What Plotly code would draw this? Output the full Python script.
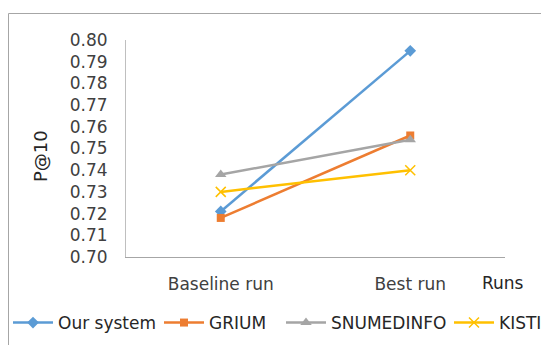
import plotly.graph_objects as go

categories = ["Baseline run", "Best run"]
our_system = [0.721, 0.795]
grium = [0.718, 0.756]
snumedinfo = [0.738, 0.754]
kisti = [0.730, 0.740]
y_ticks = [0.70, 0.71, 0.72, 0.73, 0.74, 0.75, 0.76, 0.77, 0.78, 0.79, 0.80]
y_tick_labels = ["%.2f" % v for v in y_ticks]

FONT = "DejaVu Sans"
# the page body has an 8px margin, so the figure is drawn 8px in from the corner
OFF = 8
W, H = 549 - OFF, 345 - OFF
# plot-area edges in reference pixels
PL, PR, PT, PB = 126, 505, 40, 257
L, R, T, B = PL - OFF, W - (PR - OFF), PT - OFF, H - (PB - OFF)
PW = PR - PL
PH = PB - PT

# name, values, colour, symbol, size, legend id, legend left edge (reference px)
series = [
    ("Our system", our_system, "#5b9bd5", "diamond", 9, "legend", 7),
    ("GRIUM", grium, "#ed7d31", "square", 8, "legend2", 159),
    ("SNUMEDINFO", snumedinfo, "#a5a5a5", "triangle-up", 10, "legend3", 281),
    ("KISTI", kisti, "#ffc000", "x-thin", 10, "legend4", 449),
]

fig = go.Figure()
legend_layouts = {}
for name, vals, color, sym, size, lg, lx in series:
    marker = dict(symbol=sym, size=size, color=color)
    if sym == "x-thin":
        marker["line"] = dict(color=color, width=1.5)
    fig.add_trace(go.Scatter(
        x=categories, y=vals, name=name, mode="lines+markers",
        line=dict(color=color, width=2.5), marker=marker, legend=lg,
    ))
    legend_layouts[lg] = dict(
        orientation="h", xref="container", yref="container",
        x=(lx - OFF) / W, xanchor="left", y=1 - (323 - OFF) / H, yanchor="middle",
        font=dict(family=FONT, size=17, color="#262626"),
        itemwidth=40, bgcolor="rgba(0,0,0,0)", borderwidth=0,
    )

def px_x(p):
    return (p - PL) / PW

def px_y(p):
    return (PB - p) / PH

fig.update_layout(
    width=W, height=H,
    margin=dict(l=L, r=R, t=T, b=B, autoexpand=False),
    paper_bgcolor="white", plot_bgcolor="white",
    font=dict(family=FONT, size=17, color="#404040"),
    showlegend=True,
    xaxis=dict(type="category", range=[-0.5, 1.5], showgrid=False, zeroline=False,
               showline=True, linecolor="#a6a6a6", linewidth=1, ticks="",
               ticklabelstandoff=12, tickfont=dict(family=FONT, size=17, color="#404040"),
               fixedrange=True),
    yaxis=dict(range=[0.70, 0.80], tickvals=y_ticks, ticktext=y_tick_labels,
               showgrid=False, zeroline=False, showline=True, linecolor="#bfbfbf",
               linewidth=1, ticks="", ticklabelstandoff=14,
               tickfont=dict(family=FONT, size=17, color="#404040"), fixedrange=True),
    shapes=[dict(type="rect", xref="paper", yref="paper",
                 x0=px_x(8.5), x1=px_x(570), y0=px_y(13.5), y1=px_y(370),
                 line=dict(color="#a6a6a6", width=1), fillcolor="rgba(0,0,0,0)", layer="below")],
    annotations=[
        dict(text="P@10", xref="paper", yref="paper", x=px_x(40), y=px_y(156),
             xanchor="center", yanchor="middle", textangle=-90, showarrow=False,
             font=dict(family=FONT, size=18, color="#262626")),
        dict(text="Runs", xref="paper", yref="paper", x=px_x(480), y=px_y(283),
             xanchor="left", yanchor="middle", showarrow=False,
             font=dict(family=FONT, size=17, color="#262626")),
    ],
    **legend_layouts,
)

fig.write_html("out.html")
